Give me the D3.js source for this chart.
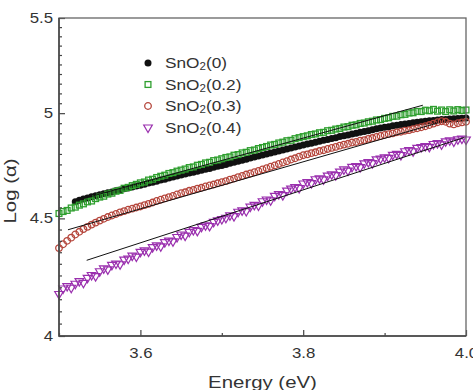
<!DOCTYPE html>
<html>
<head>
<meta charset="utf-8">
<script src="https://cdn.jsdelivr.net/npm/d3@7/dist/d3.min.js"></script>
<style>
  html, body { margin: 0; padding: 0; background: #fff; }
  svg { display: block; }
  text { font-family: "Liberation Sans", Arial, sans-serif; fill: #333; }
</style>
</head>
<body>
<svg id="chart" width="473" height="390"></svg>
<script>

// Photon energy (eV), shared by all four samples.
var energy = [
  3.500, 3.505, 3.510, 3.515, 3.520, 3.525, 3.530, 3.535, 3.540, 3.545,
  3.550, 3.555, 3.560, 3.565, 3.570, 3.575, 3.580, 3.585, 3.590, 3.595,
  3.600, 3.605, 3.610, 3.615, 3.620, 3.625, 3.630, 3.635, 3.640, 3.645,
  3.650, 3.655, 3.660, 3.665, 3.670, 3.675, 3.680, 3.685, 3.690, 3.695,
  3.700, 3.705, 3.710, 3.715, 3.720, 3.725, 3.730, 3.735, 3.740, 3.745,
  3.750, 3.755, 3.760, 3.765, 3.770, 3.775, 3.780, 3.785, 3.790, 3.795,
  3.800, 3.805, 3.810, 3.815, 3.820, 3.825, 3.830, 3.835, 3.840, 3.845,
  3.850, 3.855, 3.860, 3.865, 3.870, 3.875, 3.880, 3.885, 3.890, 3.895,
  3.900, 3.905, 3.910, 3.915, 3.920, 3.925, 3.930, 3.935, 3.940, 3.945,
  3.950, 3.955, 3.960, 3.965, 3.970, 3.975, 3.980, 3.985, 3.990, 3.995,
  4.000
];

// Log(alpha) per sample (null = no point recorded).
var sno2_0 = [
  null,  null,  null,  null,  4.576, 4.582, 4.588, 4.593, 4.598, 4.603,
  4.608, 4.612, 4.617, 4.621, 4.626, 4.630, 4.635, 4.639, 4.644, 4.648,
  4.652, 4.657, 4.662, 4.666, 4.671, 4.676, 4.680, 4.686, 4.690, 4.695,
  4.700, 4.704, 4.709, 4.713, 4.718, 4.722, 4.727, 4.731, 4.736, 4.741,
  4.745, 4.750, 4.755, 4.760, 4.765, 4.770, 4.775, 4.780, 4.785, 4.790,
  4.795, 4.800, 4.805, 4.809, 4.814, 4.819, 4.824, 4.829, 4.833, 4.838,
  4.843, 4.848, 4.852, 4.857, 4.861, 4.866, 4.870, 4.875, 4.879, 4.884,
  4.888, 4.892, 4.897, 4.901, 4.905, 4.909, 4.913, 4.918, 4.922, 4.926,
  4.930, 4.933, 4.937, 4.940, 4.943, 4.946, 4.949, 4.952, 4.955, 4.957,
  4.960, 4.962, 4.964, 4.966, 4.968, 4.969, 4.971, 4.972, 4.974, 4.975,
  4.976
];

var sno2_02 = [
  4.522, 4.531, 4.536, 4.547, 4.551, 4.560, 4.566, 4.575, 4.579, 4.590,
  4.597, 4.601, 4.611, 4.615, 4.624, 4.628, 4.638, 4.642, 4.650, 4.656,
  4.663, 4.667, 4.676, 4.680, 4.688, 4.694, 4.699, 4.707, 4.711, 4.718,
  4.723, 4.728, 4.735, 4.738, 4.746, 4.750, 4.757, 4.760, 4.768, 4.771,
  4.777, 4.783, 4.786, 4.794, 4.797, 4.805, 4.808, 4.816, 4.819, 4.826,
  4.831, 4.836, 4.843, 4.846, 4.853, 4.857, 4.864, 4.866, 4.874, 4.879,
  4.884, 4.888, 4.894, 4.897, 4.903, 4.905, 4.913, 4.915, 4.921, 4.924,
  4.931, 4.933, 4.940, 4.942, 4.949, 4.951, 4.957, 4.960, 4.966, 4.968,
  4.974, 4.977, 4.984, 4.985, 4.992, 4.994, 5.001, 5.002, 5.009, 5.008,
  5.015, 5.012, 5.019, 5.010, 5.016, 5.008, 5.017, 5.011, 5.018, 5.013,
  5.016
];

var sno2_03 = [
  4.368, 4.385, 4.400, 4.414, 4.428, 4.440, 4.452, 4.462, 4.472, 4.481,
  4.490, 4.498, 4.506, 4.513, 4.520, 4.527, 4.533, 4.539, 4.544, 4.549,
  4.554, 4.560, 4.566, 4.572, 4.579, 4.585, 4.591, 4.597, 4.602, 4.609,
  4.615, 4.619, 4.626, 4.630, 4.636, 4.640, 4.646, 4.651, 4.655, 4.661,
  4.666, 4.671, 4.678, 4.683, 4.690, 4.695, 4.702, 4.707, 4.713, 4.719,
  4.726, 4.732, 4.739, 4.745, 4.752, 4.759, 4.765, 4.773, 4.779, 4.787,
  4.794, 4.798, 4.804, 4.808, 4.814, 4.818, 4.824, 4.829, 4.834, 4.840,
  4.845, 4.849, 4.855, 4.858, 4.864, 4.867, 4.873, 4.877, 4.882, 4.887,
  4.892, 4.896, 4.900, 4.905, 4.908, 4.913, 4.916, 4.921, 4.925, 4.930,
  4.935, 4.941, 4.948, 4.955, 4.960, 4.957, 4.948, 4.944, 4.950, 4.954,
  4.957
];

var sno2_04 = [
  4.172, 4.195, 4.205, 4.198, 4.215, 4.226, 4.219, 4.240, 4.252, 4.247,
  4.268, 4.280, 4.276, 4.295, 4.301, 4.298, 4.318, 4.322, 4.335, 4.331,
  4.352, 4.358, 4.353, 4.372, 4.380, 4.376, 4.394, 4.401, 4.398, 4.417,
  4.428, 4.423, 4.440, 4.448, 4.444, 4.462, 4.469, 4.466, 4.484, 4.491,
  4.497, 4.503, 4.514, 4.510, 4.530, 4.536, 4.533, 4.553, 4.561, 4.558,
  4.578, 4.586, 4.582, 4.603, 4.611, 4.606, 4.627, 4.636, 4.643, 4.639,
  4.660, 4.667, 4.662, 4.680, 4.684, 4.679, 4.697, 4.703, 4.699, 4.716,
  4.726, 4.721, 4.738, 4.742, 4.737, 4.755, 4.761, 4.756, 4.774, 4.778,
  4.784, 4.781, 4.796, 4.800, 4.795, 4.813, 4.818, 4.813, 4.829, 4.833,
  4.838, 4.834, 4.848, 4.852, 4.846, 4.861, 4.866, 4.860, 4.871, 4.874,
  4.870
];

// Linear fits drawn over the band-edge region: [energy, log(alpha)] ends.
var fit_02 = [[3.520, 4.580], [3.947, 5.040]];
var fit_03 = [[3.511, 4.449], [3.965, 4.951]];
var fit_04 = [[3.534, 4.315], [3.998, 4.880]];

var seriesNames = ['SnO2(0)', 'SnO2(0.2)', 'SnO2(0.3)', 'SnO2(0.4)'];
var xTickLabels = ['3.6', '3.8', '4.0'];
var yTickLabels = ['4', '4.5', '5', '5.5'];

// --- layout / styles -------------------------------------------------------

var plot = { left: 59, right: 466, top: 18, bottom: 336 };

var styles = [
  { color: '#111',    shape: 'dot'      },
  { color: '#2f9f2f', shape: 'square'   },
  { color: '#b5463c', shape: 'circle'   },
  { color: '#9a2fae', shape: 'triangle' }
];

var svg = d3.select('#chart');

var x = d3.scaleLinear().domain([3.5, 4.0]).range([plot.left, plot.right]);
var y = d3.scaleLog().domain([4, 5.5]).range([plot.bottom, plot.top]);

/**
 * Append one marker of the given style into a selection of <g>s.
 */
function marker(sel, st) {
  if (st.shape === 'dot') {
    sel.append('circle').attr('r', 3.5).attr('fill', st.color);
  } else if (st.shape === 'circle') {
    sel.append('circle').attr('r', 3.3)
      .attr('fill', 'none').attr('stroke', st.color).attr('stroke-width', 1.3);
  } else if (st.shape === 'square') {
    sel.append('rect').attr('x', -2.9).attr('y', -2.9)
      .attr('width', 5.8).attr('height', 5.8)
      .attr('fill', 'none').attr('stroke', st.color).attr('stroke-width', 1.3);
  } else {
    sel.append('path')
      .attr('d', d3.symbol(d3.symbolTriangle, 32)())
      .attr('transform', 'rotate(180)')
      .attr('fill', 'none').attr('stroke', st.color).attr('stroke-width', 1.2);
  }
}

// --- data ------------------------------------------------------------------

[sno2_0, sno2_02, sno2_03, sno2_04].forEach(function(vals, k) {
  var pts = energy.map(function(e, i) { return [e, vals[i]]; })
    .filter(function(p) { return p[1] != null; });

  var g = svg.append('g').attr('class', 'series-' + k);
  var m = g.selectAll('g').data(pts).enter().append('g')
    .attr('transform', function(p) {
      return 'translate(' + x(p[0]) + ',' + y(p[1]) + ')';
    });
  marker(m, styles[k]);
});

// Fit lines.
var line = d3.line()
  .x(function(p) { return x(p[0]); })
  .y(function(p) { return y(p[1]); });

[fit_02, fit_03, fit_04].forEach(function(f) {
  svg.append('path').datum(f).attr('d', line)
    .attr('fill', 'none').attr('stroke', '#111').attr('stroke-width', 1);
});

// --- axes ------------------------------------------------------------------

function styleAxis(g) {
  g.select('.domain').remove();
  g.selectAll('line').attr('stroke', '#444').attr('stroke-width', 1.2);
  g.selectAll('text')
    .attr('fill', '#333')
    .attr('font-family', '"Liberation Sans", Arial, sans-serif')
    .attr('font-size', 14)
    .attr('transform', 'scale(1.2,1)');
}

var xMajor = [3.6, 3.8, 4.0];
var xMinor = [3.5, 3.7, 3.9];
var yMajor = [4, 4.5, 5, 5.5];
var yMinor = d3.range(4.05, 5.5, 0.05).filter(function(v) {
  return Math.abs(v * 2 - Math.round(v * 2)) > 1e-6;
});

svg.append('g')
  .attr('transform', 'translate(0,' + plot.bottom + ')')
  .call(d3.axisBottom(x).tickValues(xMinor).tickSize(-3).tickFormat(''))
  .call(styleAxis);

svg.append('g')
  .attr('transform', 'translate(0,' + plot.bottom + ')')
  .call(d3.axisBottom(x).tickValues(xMajor).tickSize(-6).tickPadding(12)
    .tickFormat(function(d, i) { return xTickLabels[i]; }))
  .call(styleAxis);

svg.append('g')
  .attr('transform', 'translate(' + plot.left + ',0)')
  .call(d3.axisLeft(y).tickValues(yMinor).tickSize(-3).tickFormat(''))
  .call(styleAxis);

svg.append('g')
  .attr('transform', 'translate(' + plot.left + ',0)')
  .call(d3.axisLeft(y).tickValues(yMajor).tickSize(-6).tickPadding(5)
    .tickFormat(function(d, i) { return yTickLabels[i]; }))
  .call(styleAxis);

// Frame: top/right lighter, left/bottom darker.
svg.append('rect')
  .attr('x', plot.left).attr('y', plot.top)
  .attr('width', plot.right - plot.left)
  .attr('height', plot.bottom - plot.top)
  .attr('fill', 'none').attr('stroke', '#666').attr('stroke-width', 1.3);

svg.append('path')
  .attr('d', 'M' + plot.left + ',' + plot.top + 'V' + plot.bottom +
    'H' + plot.right)
  .attr('fill', 'none').attr('stroke', '#444').attr('stroke-width', 1.5);

// Axis titles.
svg.append('text')
  .attr('transform', 'translate(' + ((plot.left + plot.right) / 2) +
    ',388) scale(1.2,1)')
  .attr('text-anchor', 'middle').attr('font-size', 17)
  .text('Energy (eV)');

svg.append('text')
  .attr('transform', 'translate(16,191) rotate(-90) scale(1.2,1)')
  .attr('text-anchor', 'middle').attr('font-size', 17)
  .text('Log (\u03b1)');

// --- legend ----------------------------------------------------------------

var legend = svg.append('g').attr('class', 'legend');

seriesNames.forEach(function(name, k) {
  var cy = 63 + k * 21.5;
  var m = legend.append('g').attr('transform', 'translate(148,' + cy + ')');
  marker(m, styles[k]);

  var t = legend.append('text')
    .attr('transform', 'translate(165,' + (cy + 5) + ') scale(1.15,1)')
    .attr('font-size', 15);
  t.append('tspan').text(name.slice(0, 3));
  t.append('tspan').attr('font-size', 10).attr('dy', 2).text(name[3]);
  t.append('tspan').attr('dy', -2).text(name.slice(4));
});

</script>
</body>
</html>
